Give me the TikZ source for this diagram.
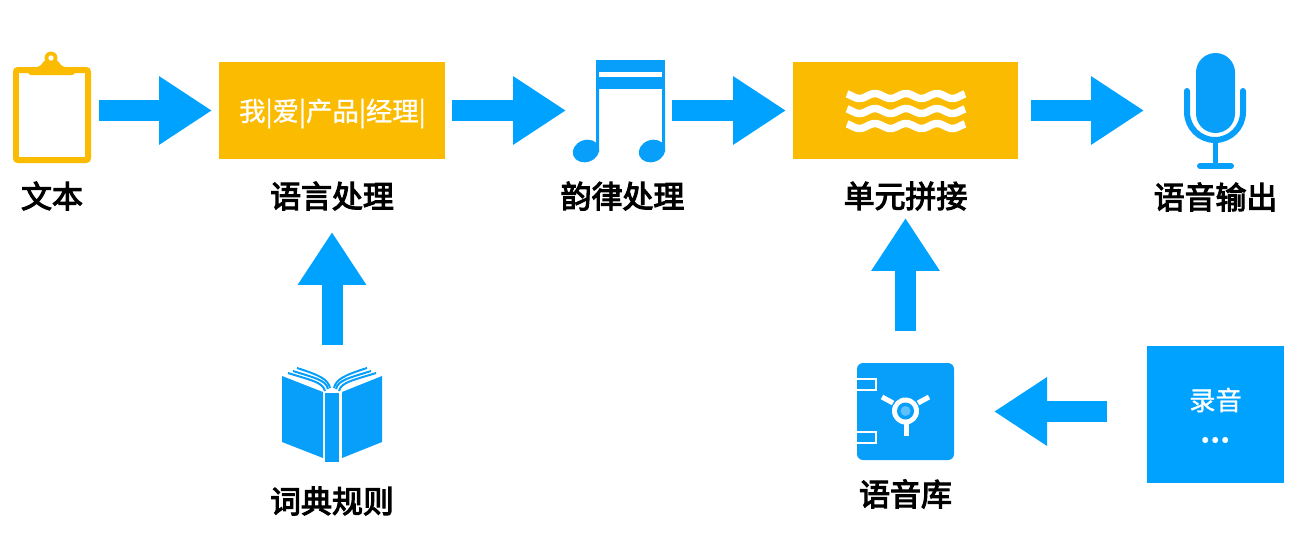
\documentclass[tikz,border=0pt]{standalone}
\usepackage{fontspec}
\newfontfamily\cjkmid{Noto Sans CJK SC}[FakeBold=3.5]
\newfontfamily\cjklight{Noto Sans CJK SC}[FakeBold=1]
\usetikzlibrary{arrows.meta}
\definecolor{flowblue}{HTML}{00A2FF}
\definecolor{iconblue}{HTML}{089FFB}
\definecolor{boxyellow}{HTML}{FBBB00}
\def\u{0.02cm}

\begin{document}
\begin{tikzpicture}[x=0.02cm, y=-0.02cm,
    flowarrow/.style={draw=flowblue, line width=0.42cm, -{Triangle[length=1.06cm,width=1.3cm,fill=flowblue]}},
    anchorbox/.style={inner sep=0pt, outer sep=0pt},
    yellowbox/.style={fill=boxyellow, inner sep=0pt, outer sep=0pt, minimum width=226*\u, minimum height=97*\u},
    steplabel/.style={inner sep=0pt, outer sep=0pt, minimum height=32*\u, font=\cjkmid\fontsize{17.6pt}{20pt}\selectfont},
    boxtext/.style={text=white, inner sep=0pt, font=\cjklight\fontsize{15pt}{17pt}\selectfont}]
      \useasboundingbox (0,0) rectangle (1301,552);
      %
      \node[anchorbox, minimum width=78*\u, minimum height=96*\u] (doc) at (52,110.5) {};
      \node[yellowbox] (langbox) at (332,110.5) {};
      \node[boxtext] (langword) at (332.5,113.5) {我|爱|产品|经理|};
      \node[anchorbox, minimum width=93*\u, minimum height=102*\u] (note) at (618.5,110.5) {};
      \node[yellowbox, minimum width=225*\u] (unitbox) at (905.5,110.5) {};
      \node[anchorbox, minimum width=61*\u, minimum height=116*\u] (mic) at (1215,110.5) {};
      \node[anchorbox, minimum width=100*\u, minimum height=88*\u] (book) at (332,418) {};
      \node[fill=iconblue, rounded corners=0.12cm, inner sep=0pt, outer sep=0pt, minimum width=97*\u, minimum height=97*\u] (safe) at (905.5,411.5) {};
      \node[fill=flowblue, inner sep=0pt, outer sep=0pt, minimum width=137*\u, minimum height=137*\u] (rec) at (1215.5,414.5) {};
      \node[boxtext] (recword) at (1215.5,400) {录音};
      \node[boxtext] (recdots) at (1215,440) {\bfseries …};
      %
      \node[steplabel] (doclabel) at (52,196) {文本};
      \node[steplabel] (langlabel) at (332,196) {语言处理};
      \node[steplabel] (notelabel) at (622.5,196) {韵律处理};
      \node[steplabel] (unitlabel) at (905.5,196) {单元拼接};
      \node[steplabel] (miclabel) at (1215.5,197) {语音输出};
      \node[steplabel] (booklabel) at (332,501) {词典规则};
      \node[steplabel] (safelabel) at (905.5,494) {语音库};
      %
      \draw[flowarrow, shorten <=8*\u, shorten >=7*\u] (doc.east) -- (langbox.west);
      \draw[flowarrow, shorten <=7*\u, shorten >=6*\u] (langbox.east) -- (note.west);
      \draw[flowarrow, shorten <=7*\u, shorten >=7*\u] (note.east) -- (unitbox.west);
      \draw[flowarrow, shorten <=13*\u, shorten >=40.5*\u] (unitbox.east) -- (mic.west);
      \draw[flowarrow, shorten <=29*\u, shorten >=20*\u] (book.north) -- (langlabel.south);
      \draw[flowarrow, shorten <=32*\u, shorten >=6*\u] (safe.north) -- (unitlabel.south);
      \draw[flowarrow, shorten <=40*\u, shorten >=40*\u] (rec.west |- safe.east) -- (safe.east);
      %
      % clipboard
      \draw[boxyellow, line width=0.12cm, rounded corners=0.04cm] (16,70) rectangle (88,160);
      \fill[boxyellow, rounded corners=0.06cm] (28,75) -- (28,69) -- (41,66) -- (44,60) -- (58,60) -- (61,66) -- (75,69) -- (75,75) -- cycle;
      \fill[boxyellow] (51,58) circle (6.5);
      \fill[white] (51,58) circle (2.7);
      %
      % beamed notes
      \fill[iconblue] (596,60) rectangle (665,89);
      \fill[white] (599,72) rectangle (662,77);
      \fill[iconblue] (596,89) rectangle (599,152) (662,89) rectangle (665,152);
      \fill[iconblue, rotate around={20:(586,151)}] (586,151) ellipse [x radius=13.5, y radius=11];
      \fill[iconblue, rotate around={20:(652,151)}] (652,151) ellipse [x radius=13.5, y radius=11];
      %
      % waves in the unit box
      \foreach \wy in {96,111,126}
        \draw[white, line width=0.15cm] plot[domain=847:965, samples=70, smooth] (\x,{\wy-2.5*cos((\x-875)*11.613)});
      %
      % microphone
      \fill[iconblue, rounded corners=0.39cm] (1196,53) rectangle (1235,133);
      \draw[iconblue, line width=0.12cm, line cap=round] (1187,91) -- (1187,112) arc[start angle=180, end angle=360, x radius=28, y radius=-28] -- (1243,91);
      \draw[iconblue, line width=0.11cm] (1215.5,140) -- (1215.5,165);
      \draw[iconblue, line width=0.12cm, line cap=round] (1200,166) -- (1231,166);
      %
      % open book
      \fill[iconblue] (282,376) -- (323,392) -- (323,458) -- (282,442) -- cycle;
      \fill[iconblue] (325,393) rectangle (339,462);
      \fill[iconblue] (342,392) -- (382,376) -- (382,442) -- (342,458) -- cycle;
      \foreach \sx/\sy/\ex/\ey in {288/373/325/391,293/371/328/389,297/368/330/388}{
        \draw[iconblue, line width=0.04cm] (\sx,\sy) .. controls (\sx+22,\sy+7) and (\ex-2,\ey-9) .. (\ex,\ey);
        \draw[iconblue, line width=0.04cm] (664-\sx,\sy) .. controls (642-\sx,\sy+7) and (666-\ex,\ey-9) .. (664-\ex,\ey);
      }
      %
      % safe door and lock
      \draw[white, line width=0.03cm] (857,379) -- (876,379) -- (876,390) -- (857,390);
      \draw[white, line width=0.03cm] (857,432) -- (876,432) -- (876,443) -- (857,443);
      \draw[white, line width=0.1cm] (882,397) -- (893,403);
      \draw[white, line width=0.1cm] (929,397) -- (918,403);
      \draw[white, line width=0.1cm] (906,424) -- (906,436);
      \fill[white] (905.5,411) circle (13.5);
      \fill[iconblue] (905.5,411) circle (8.5);
      \fill[white!35!iconblue] (905.5,411) circle (5);
    \end{tikzpicture}
\end{document}
